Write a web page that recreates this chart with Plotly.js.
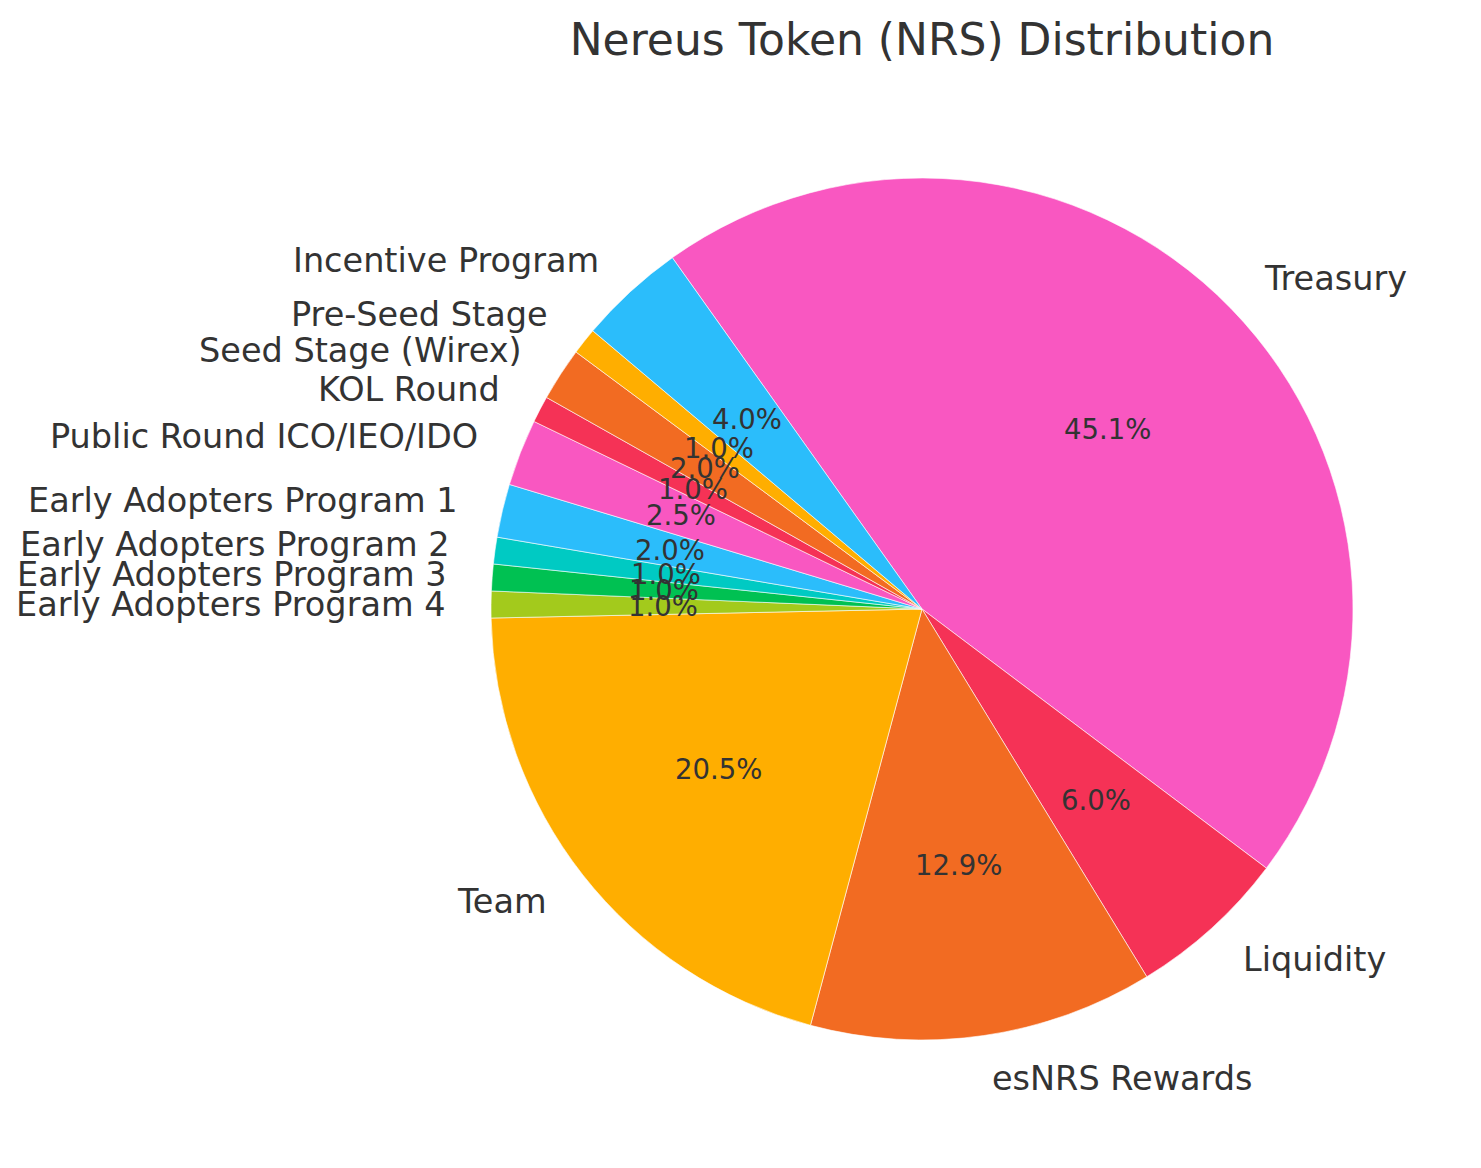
<!DOCTYPE html>
<html>
<head>
<meta charset="utf-8">
<script src="https://cdn.plot.ly/plotly-3.0.1.min.js"></script>
<style>html,body{margin:0;padding:0;background:#fff;}#chart{width:1481px;height:1168px;}</style>
</head>
<body>
<div id="chart"></div>
<script>
const categories = ["Treasury", "Liquidity", "esNRS Rewards", "Team",
  "Early Adopters Program 4", "Early Adopters Program 3", "Early Adopters Program 2",
  "Early Adopters Program 1", "Public Round ICO/IEO/IDO", "KOL Round",
  "Seed Stage (Wirex)", "Pre-Seed Stage", "Incentive Program"];
const shares = [45.1, 6.0, 12.9, 20.5, 1.0, 1.0, 1.0, 2.0, 2.5, 1.0, 2.0, 1.0, 4.0];
const sliceColors = ["#F957C1", "#F53256", "#F26B22", "#FFAE00", "#A3CA1C", "#00C152",
  "#00CAC3", "#2BBDFB", "#F957C1", "#F53256", "#F26B22", "#FFAE00", "#2BBDFB"];

const W = 1481, H = 1168;
const cx = 922, cy = 609, R = 431;
const rotation = -35.4;
const textColor = "#333333";

const total = shares.reduce((a, b) => a + b, 0);
const annotations = [];
let cum = 0;
shares.forEach((v, i) => {
  const mid = (rotation + (cum + v / 2) / total * 360) * Math.PI / 180;
  cum += v;
  const sx = Math.sin(mid), sy = Math.cos(mid);
  // outer label
  const lx = cx + 1.1 * R * sx, ly = cy - 1.1 * R * sy;
  annotations.push({
    text: categories[i], xref: "paper", yref: "paper",
    x: lx / W, y: 1 - ly / H, showarrow: false,
    xanchor: sx >= 0 ? "left" : "right", yanchor: "middle",
    font: {family: "DejaVu Sans", size: 33.5, color: textColor}
  });
  // percentage label
  const px = cx + 0.6 * R * sx, py = cy - 0.6 * R * sy;
  annotations.push({
    text: (v / total * 100).toFixed(1) + "%", xref: "paper", yref: "paper",
    x: px / W, y: 1 - py / H, showarrow: false,
    xanchor: "center", yanchor: "middle",
    font: {family: "DejaVu Sans", size: 27.5, color: textColor}
  });
});

const trace = {
  type: "pie",
  labels: categories,
  values: shares,
  sort: false,
  direction: "clockwise",
  rotation: rotation,
  textinfo: "none",
  hoverinfo: "label+percent",
  marker: {colors: sliceColors, line: {width: 0.6, color: "#ffffff"}},
  domain: {x: [(cx - R) / W, (cx + R) / W], y: [1 - (cy + R) / H, 1 - (cy - R) / H]},
  showlegend: false
};

const layout = {
  width: W, height: H,
  margin: {l: 0, r: 0, t: 0, b: 0},
  paper_bgcolor: "#ffffff",
  title: {
    text: "Nereus Token (NRS) Distribution",
    font: {family: "DejaVu Sans", size: 44, color: textColor},
    xref: "paper", x: cx / W, xanchor: "center",
    yref: "container", y: 1 - 40 / H, yanchor: "middle"
  },
  annotations: annotations,
  showlegend: false
};

Plotly.newPlot("chart", [trace], layout, {displayModeBar: false, staticPlot: true});
</script>
</body>
</html>
